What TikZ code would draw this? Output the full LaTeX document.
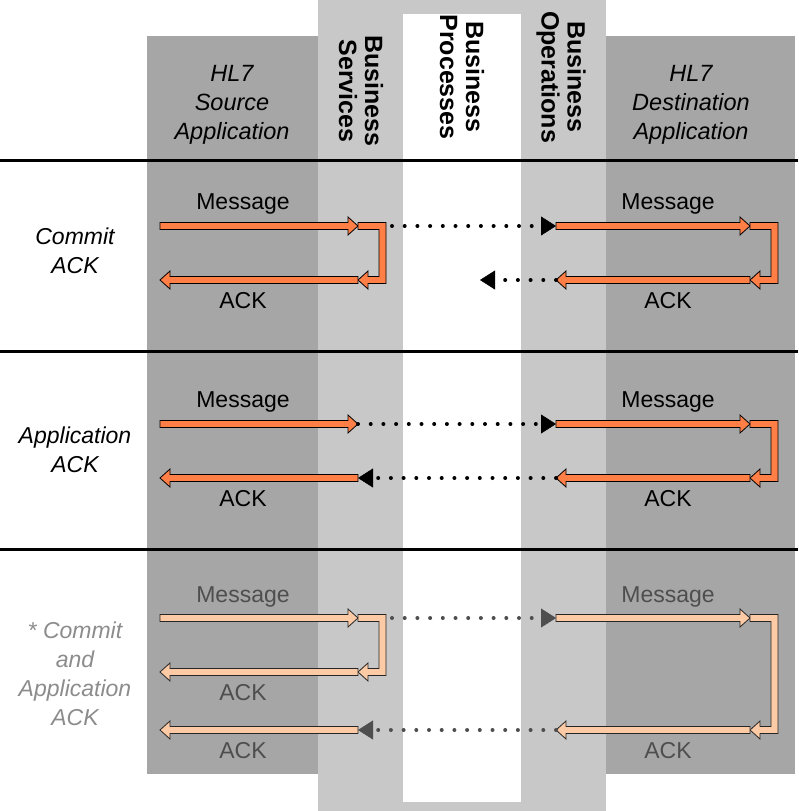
\documentclass[tikz,border=0pt]{standalone}
\usepackage{fontspec}
\setmainfont{Liberation Sans}
\usepackage{tikz}
\usetikzlibrary{positioning,arrows.meta,calc}
\definecolor{colordark} {RGB}{166,166,166}
\definecolor{colorlight}{RGB}{200,200,200}
\definecolor{colorhot}  {RGB}{255,127,70}
\definecolor{colorpale} {RGB}{252,202,164}
\definecolor{colorfaint}{RGB}{140,140,140}
\definecolor{colordim}  {RGB}{78,78,78}

% straight block arrow, tail #2, tip #3
\newcommand{\blockarrow}[3][]{%
  \filldraw[#1] let \p1=(#2), \p2=(#3), \n1={ifthenelse(\x2>\x1,10,-10)} in
    (\x1,\y1+3.5pt) -- (\x2-\n1*1pt,\y1+3.5pt) -- (\x2-\n1*1pt,\y1+9pt) -- (\x2,\y1)
    -- (\x2-\n1*1pt,\y1-9pt) -- (\x2-\n1*1pt,\y1-3.5pt) -- (\x1,\y1-3.5pt) -- cycle;}
% block arrow that turns back: out to the right by #4, down, and left to #3
\newcommand{\bentarrow}[4][]{%
  \filldraw[#1] let \p1=(#2), \p2=(#3) in
    (\x1,\y1+3.5pt) -- (\x1+#4,\y1+3.5pt) -- (\x1+#4,\y2-3.5pt) -- (\x2+10pt,\y2-3.5pt)
    -- (\x2+10pt,\y2-9pt) -- (\x2,\y2) -- (\x2+10pt,\y2+9pt) -- (\x2+10pt,\y2+3.5pt)
    -- (\x1+#4-7pt,\y2+3.5pt) -- (\x1+#4-7pt,\y1-3.5pt) -- (\x1,\y1-3.5pt) -- cycle;}

\begin{document}
\begin{tikzpicture}[
    x=1pt, y=-1pt,
    font={\fontsize{23}{29}\selectfont},
    label/.style={inner sep=0pt, anchor=base},
    rowname/.style={inner sep=0pt, align=center, font={\fontsize{23}{29}\selectfont\itshape}},
    header/.style={inner sep=0pt, align=center, font={\fontsize{23.5}{29}\selectfont\itshape}},
    layer/.style={inner sep=0pt, align=center, rotate=-90, font={\fontsize{25}{26}\selectfont\bfseries}},
    rule/.style={line width=3pt},
    hot/.style={fill=colorhot, draw=black, line width=0.8pt, line join=miter},
    pale/.style={fill=colorpale, draw=black!85, line width=0.8pt, line join=miter},
    dotline/.style={line width=4pt, line cap=round, dash pattern=on 0pt off 12.7pt,
        -{Triangle[length=15pt,width=19pt,line width=0.4pt]}},
    dotdim/.style={dotline, colordim},
]
    \useasboundingbox (0,0) rectangle (798,811);

    % Columns
    \fill[colorlight] (318,0) rectangle (606,811);
    \fill[white] (403,14) rectangle (521,802);
    \fill[colordark] (147,36) rectangle (318,774);
    \fill[colordark] (606,36) rectangle (795,774);

    % Headers
    \node[header] (source) at (232,105) {HL7\\Source\\Application};
    \node[header] (dest)   at (691,105) {HL7\\Destination\\Application};
    \node[layer] (services)   at (361,91) {Business\\Services};
    \node[layer] (processes)  at (462,77) {Business\\Processes};
    \node[layer] (operations) at (561,77) {Business\\Operations};

    % Rules
    \coordinate (ruleL1) at (0,160);   \coordinate (ruleR1) at (798,160);
    \coordinate (ruleL2) at (0,351);   \coordinate (ruleR2) at (798,351);
    \coordinate (ruleL3) at (0,549);   \coordinate (ruleR3) at (798,549);
    \draw[rule] (ruleL1) -- (ruleR1);
    \draw[rule] (ruleL2) -- (ruleR2);
    \draw[rule] (ruleL3) -- (ruleR3);

    % Commit ACK
    \node[rowname] (commit) at (75,251) {Commit\\ACK};
    \coordinate (srcM1) at (160,226);  \coordinate (svcM1) at (358,226);
    \coordinate (gapM1) at (392,226);
    \coordinate (opsM1) at (556,226);  \coordinate (dstM1) at (750,226);
    \coordinate (srcA1) at (160,280);  \coordinate (svcA1) at (358,280);
    \coordinate (lostA1) at (480,280);
    \coordinate (opsA1) at (556,280);  \coordinate (dstA1) at (750,280);

    \blockarrow[hot]{srcM1}{svcM1}
    \bentarrow[hot]{svcM1}{svcA1}{28pt}
    \blockarrow[hot]{svcA1}{srcA1}
    \draw[dotline] (gapM1) -- (opsM1);
    \blockarrow[hot]{opsM1}{dstM1}
    \bentarrow[hot]{dstM1}{dstA1}{28pt}
    \blockarrow[hot]{dstA1}{opsA1}
    \draw[dotline] (opsA1) -- (lostA1);

    \node[label] (msgL1) at (243,209) {Message};
    \node[label] (ackL1) at (243,308) {ACK};
    \node[label] (msgR1) at (668,209) {Message};
    \node[label] (ackR1) at (668,308) {ACK};

    % Application ACK
    \node[rowname] (application) at (75,450) {Application\\ACK};
    \coordinate (srcM2) at (160,424);  \coordinate (svcM2) at (358,424);
    \coordinate (opsM2) at (556,424);  \coordinate (dstM2) at (750,424);
    \coordinate (srcA2) at (160,478);  \coordinate (svcA2) at (358,478);
    \coordinate (opsA2) at (556,478);  \coordinate (dstA2) at (750,478);

    \blockarrow[hot]{srcM2}{svcM2}
    \draw[dotline] (svcM2) -- (opsM2);
    \blockarrow[hot]{opsM2}{dstM2}
    \bentarrow[hot]{dstM2}{dstA2}{28pt}
    \blockarrow[hot]{dstA2}{opsA2}
    \draw[dotline] (opsA2) -- (svcA2);
    \blockarrow[hot]{svcA2}{srcA2}

    \node[label] (msgL2) at (243,407) {Message};
    \node[label] (ackL2) at (243,506) {ACK};
    \node[label] (msgR2) at (668,407) {Message};
    \node[label] (ackR2) at (668,506) {ACK};

    % Commit and Application ACK
    \node[rowname, text=colorfaint] (both) at (75,674) {* Commit\\and\\Application\\ACK};
    \coordinate (srcM3) at (160,618);  \coordinate (svcM3) at (358,618);
    \coordinate (gapM3) at (392,618);
    \coordinate (opsM3) at (556,618);  \coordinate (dstM3) at (750,618);
    \coordinate (srcA3) at (160,672);  \coordinate (svcA3) at (358,672);
    \coordinate (srcB3) at (160,730);  \coordinate (svcB3) at (358,730);
    \coordinate (opsB3) at (556,730);  \coordinate (dstB3) at (750,730);

    \blockarrow[pale]{srcM3}{svcM3}
    \bentarrow[pale]{svcM3}{svcA3}{28pt}
    \blockarrow[pale]{svcA3}{srcA3}
    \draw[dotdim] (gapM3) -- (opsM3);
    \blockarrow[pale]{opsM3}{dstM3}
    \bentarrow[pale]{dstM3}{dstB3}{28pt}
    \blockarrow[pale]{dstB3}{opsB3}
    \draw[dotdim] (opsB3) -- (svcB3);
    \blockarrow[pale]{svcB3}{srcB3}

    \node[label, text=colordim] (msgL3) at (243,602) {Message};
    \node[label, text=colordim] (ackL3) at (243,700) {ACK};
    \node[label, text=colordim] (ackM3) at (243,758) {ACK};
    \node[label, text=colordim] (msgR3) at (668,602) {Message};
    \node[label, text=colordim] (ackR3) at (668,758) {ACK};

\end{tikzpicture}
\end{document}
